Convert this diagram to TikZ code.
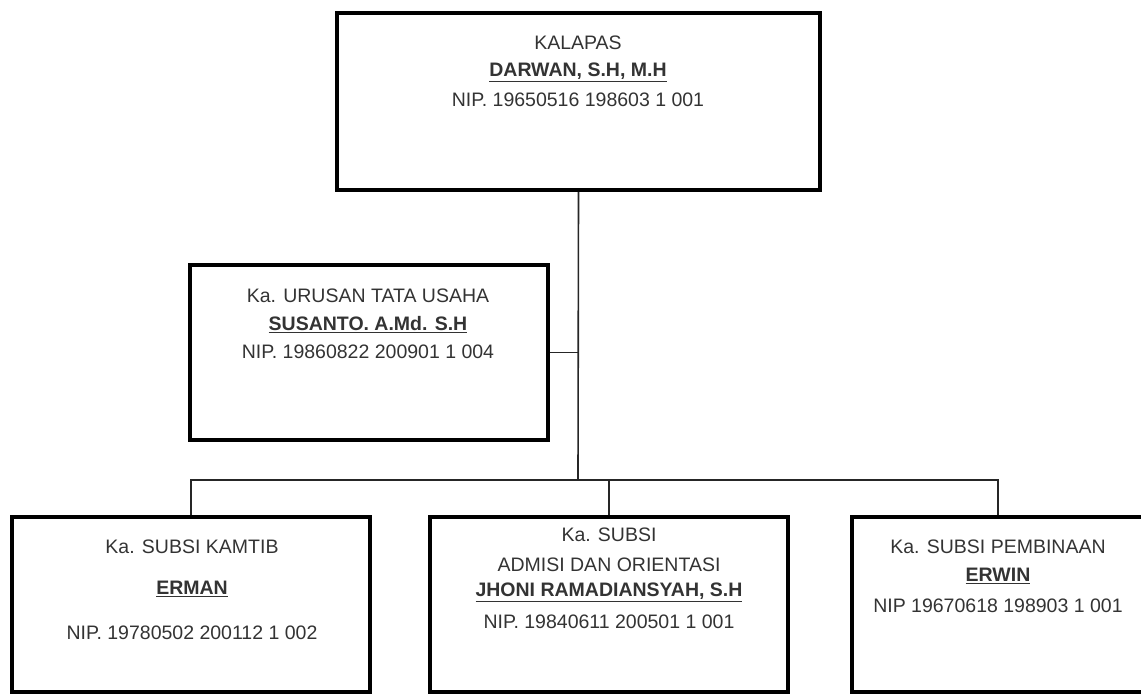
\documentclass[tikz,border=0pt]{standalone}
\usepackage{fontspec}
\setmainfont{Liberation Sans}
\begin{document}
\begin{tikzpicture}[x=1pt,y=-1pt,
  box/.style={draw=black, line width=3.5pt, rectangle, inner sep=0pt},
  conn/.style={draw=black!85, line width=1.6pt},
  txt/.style={text=black!80, inner sep=0pt, font=\fontsize{19.5}{23}\selectfont},
  nm/.style={txt, font=\fontsize{19.5}{23}\selectfont\bfseries}]
\useasboundingbox (0,0) rectangle (1141,694);
\clip (0,0) rectangle (1141,694);
% boxes
\node[box, minimum width=483pt, minimum height=177pt] (kalapas) at (578.5,101.5) {};
\node[box, minimum width=358pt, minimum height=175pt] (tu) at (369,352.5) {};
\node[box, minimum width=358pt, minimum height=175pt] (kamtib) at (191,604.5) {};
\node[box, minimum width=358pt, minimum height=175pt] (admisi) at (609,604.5) {};
\node[box, minimum width=292pt, minimum height=175pt] (pembinaan) at (998,604.5) {};
% connectors
\coordinate (j) at (578,480);
\draw[conn] (kalapas.south) -- (j);
\draw[conn] (tu.east) -- (tu.east -| j);
\draw[conn] (kamtib.north) |- (j) -| (pembinaan.north);
\draw[conn] (admisi.north) -- (admisi.north |- j);
% texts
\node[txt] (t1a) at (578,43) {KALAPAS};
\node[nm]  (t1b) at (578,72) {\underline{DARWAN, S.H, M.H}};
\node[txt] (t1c) at (578,100) {NIP. 19650516 198603 1 001};
\node[txt] (t2a) at (368,296) {Ka. URUSAN TATA USAHA};
\node[nm]  (t2b) at (368,325) {\underline{SUSANTO. A.Md. S.H}};
\node[txt] (t2c) at (368,352) {NIP. 19860822 200901 1 004};
\node[txt] (t3a) at (192,547) {Ka. SUBSI KAMTIB};
\node[nm]  (t3b) at (192,589) {\underline{ERMAN}};
\node[txt] (t3c) at (192,633) {NIP. 19780502 200112 1 002};
\node[txt] (t4a) at (609,535) {Ka. SUBSI};
\node[txt] (t4b) at (609,565) {ADMISI DAN ORIENTASI};
\node[nm]  (t4c) at (609,592) {\underline{JHONI RAMADIANSYAH, S.H}};
\node[txt] (t4d) at (609,622) {NIP. 19840611 200501 1 001};
\node[txt] (t5a) at (998,547) {Ka. SUBSI PEMBINAAN};
\node[nm]  (t5b) at (998,576) {\underline{ERWIN}};
\node[txt] (t5c) at (998,606) {NIP 19670618 198903 1 001};
\end{tikzpicture}
\end{document}
